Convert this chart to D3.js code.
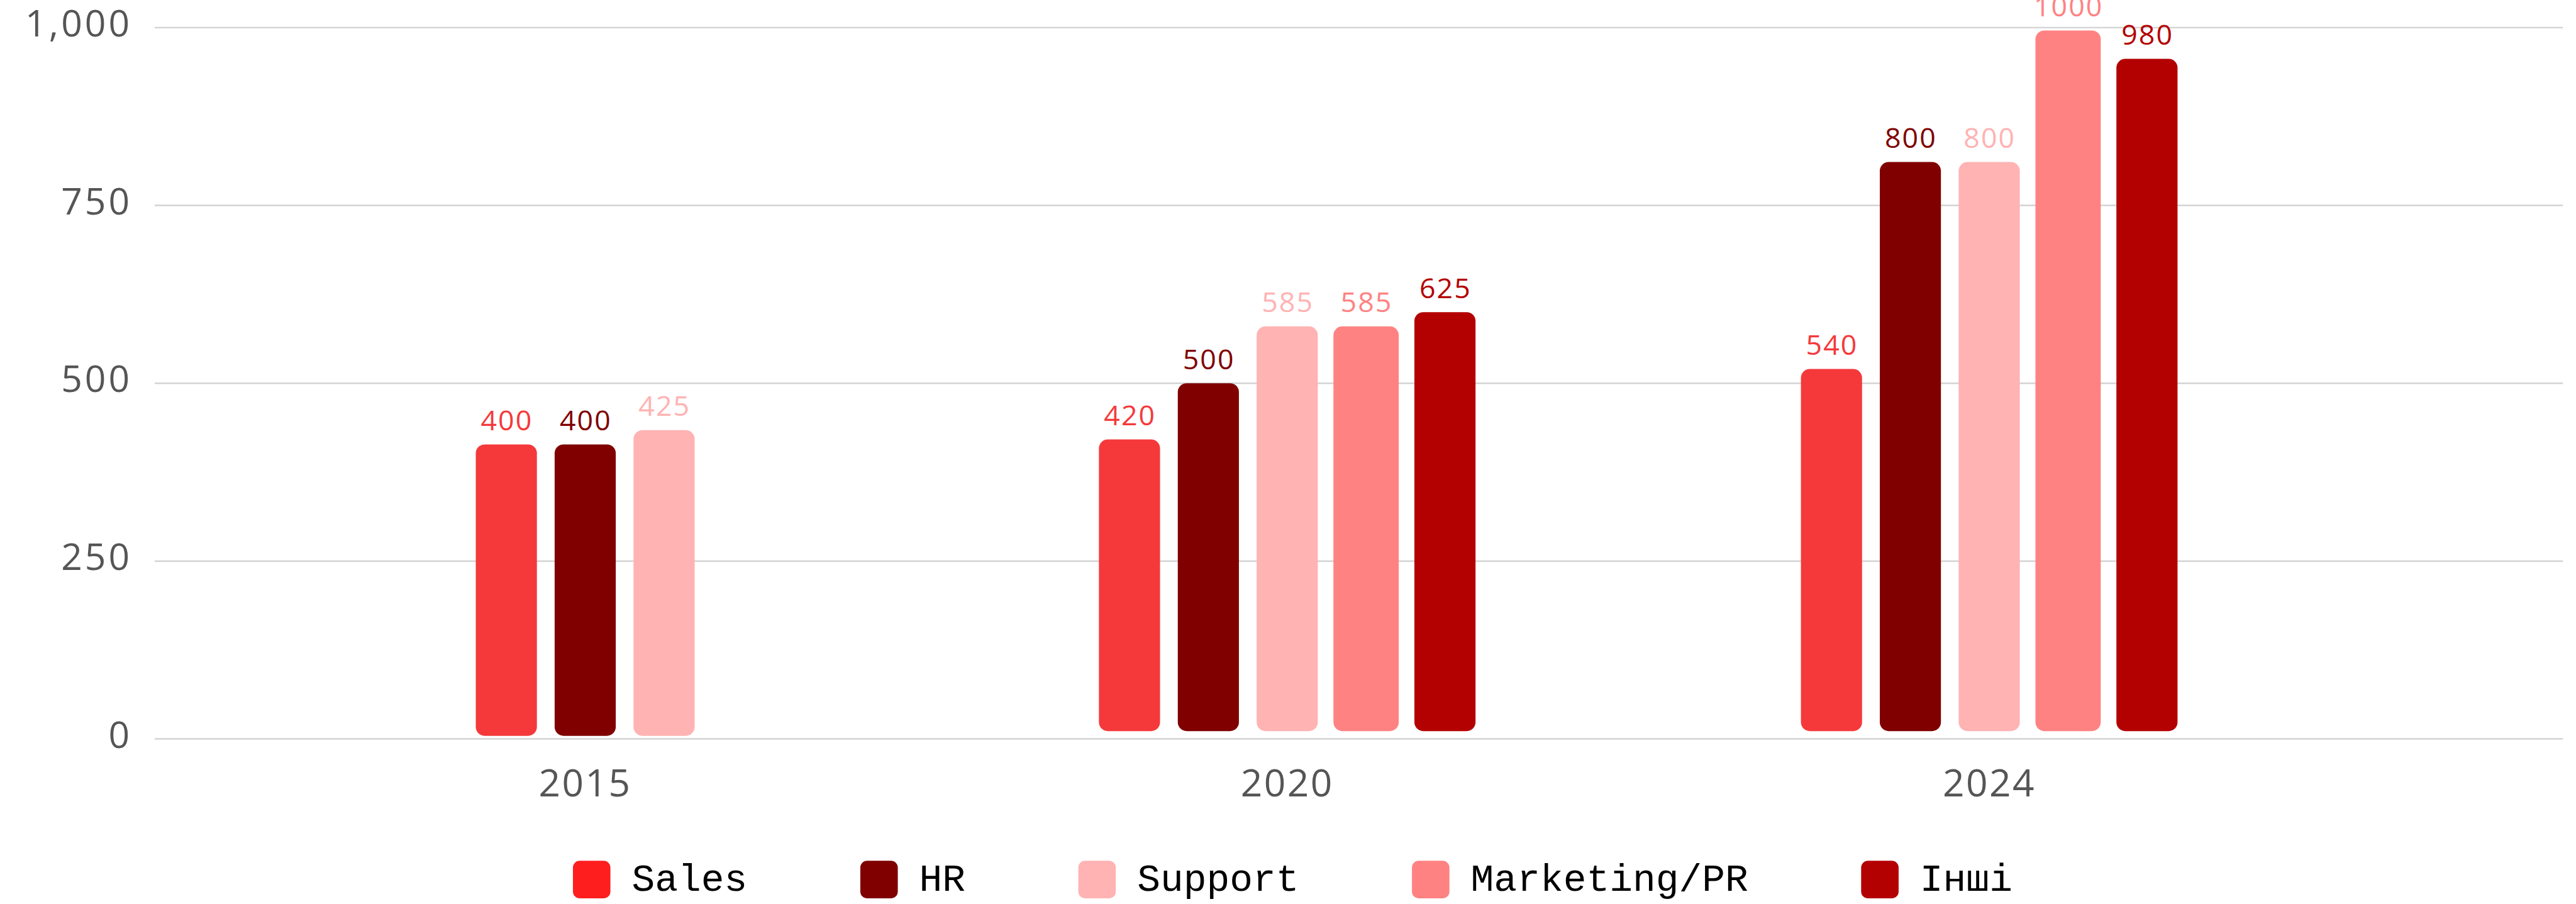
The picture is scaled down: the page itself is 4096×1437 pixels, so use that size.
<!DOCTYPE html>
<html>
<head>
<meta charset="utf-8">
<script src="https://cdn.jsdelivr.net/npm/d3@7"></script>
<style>
  html, body { margin: 0; padding: 0; background: #fff; overflow: hidden; }
  svg { display: block; }
</style>
</head>
<body>
<div id="chart"></div>
<script>
// Data
const years = ["2015", "2020", "2024"];
const seriesNames = ["Sales", "HR", "Support", "Marketing/PR", "Інші"];
const barColors = ["#F5393B", "#800000", "#FFB3B3", "#FF8282", "#B30000"];
const legendColors = ["#FF1E1E", "#800000", "#FFB3B3", "#FF8282", "#B30000"];

// bar heights (null = no bar that year)
const sales = [414, 421, 520];
const hr = [414, 500, 811];
const support = [434, 580, 811];
const marketing = [null, 580, 996];
const other = [null, 600, 956];

// numbers printed above the bars
const salesLabels = ["400", "420", "540"];
const hrLabels = ["400", "500", "800"];
const supportLabels = ["425", "585", "800"];
const marketingLabels = [null, "585", "1000"];
const otherLabels = [null, "625", "980"];

const yTicks = [0, 250, 500, 750, 1000];

const seriesValues = [sales, hr, support, marketing, other];
const seriesLabels = [salesLabels, hrLabels, supportLabels, marketingLabels, otherLabels];

// Layout (drawn in reference units, scaled by the viewBox)
const W = 4948, H = 1736;
const gridLeft = 297, gridRight = 4923;
const barStep = 151.5;
const baseGap = { "2015": 6, "2020": 15, "2024": 15 };

const svg = d3.select("#chart").append("svg")
	.attr("width", 4096)
	.attr("height", 1437)
	.attr("viewBox", `0 0 ${W} ${H}`);

const y = d3.scaleLinear().domain([0, 1000]).range([1419, 53]);
const x = d3.scalePoint().domain(years).range([1124, 3821]);

// grid lines
svg.append("g")
	.selectAll("line")
	.data(yTicks)
	.join("line")
	.attr("x1", gridLeft)
	.attr("x2", gridRight)
	.attr("y1", (d) => y(d))
	.attr("y2", (d) => y(d))
	.attr("stroke", "#D3D3D3")
	.attr("stroke-width", 3);

// y tick labels
svg.append("g")
	.selectAll("text")
	.data(yTicks)
	.join("text")
	.attr("x", 254)
	.attr("y", (d) => y(d) + 17)
	.attr("text-anchor", "end")
	.style("font-family", "'Open Sans', sans-serif")
	.style("font-size", "71px")
	.style("letter-spacing", "5px")
	.attr("fill", "#555")
	.text((d) => d3.format(",")(d));

// year labels
svg.append("g")
	.selectAll("text")
	.data(years)
	.join("text")
	.attr("x", (d) => x(d))
	.attr("y", 1530)
	.attr("text-anchor", "middle")
	.style("font-family", "'Open Sans', sans-serif")
	.style("font-size", "73px")
	.style("letter-spacing", "3px")
	.attr("fill", "#555")
	.text((d) => d);

// build the bar rows
const bars = [];
years.forEach((year, yi) => {
	const present = seriesNames.filter((s, si) => seriesValues[si][yi] != null);
	const n = present.length;
	const inner = d3.scaleBand()
		.domain(present)
		.range([-n * barStep / 2, n * barStep / 2])
		.paddingInner(0.225)
		.paddingOuter(0.1125);
	present.forEach((name) => {
		const si = seriesNames.indexOf(name);
		const extra = name === "Marketing/PR" ? 8 : 0;
		bars.push({
			year,
			name,
			value: seriesValues[si][yi],
			label: seriesLabels[si][yi],
			color: barColors[si],
			x0: x(year) + inner(name) - extra / 2,
			w: inner.bandwidth() + extra,
		});
	});
});

svg.append("g")
	.selectAll("rect")
	.data(bars)
	.join("rect")
	.attr("x", (d) => d.x0)
	.attr("width", (d) => d.w)
	.attr("y", (d) => y(d.value))
	.attr("height", (d) => y(0) - baseGap[d.year] - y(d.value))
	.attr("rx", 17)
	.attr("fill", (d) => d.color);

svg.append("g")
	.selectAll("text")
	.data(bars)
	.join("text")
	.attr("x", (d) => d.x0 + d.w / 2 + 1)
	.attr("y", (d) => y(d.value) - 27)
	.attr("text-anchor", "middle")
	.style("font-family", "'Open Sans', sans-serif")
	.style("font-size", "54px")
	.style("letter-spacing", "2.5px")
	.attr("fill", (d) => d.color)
	.text((d) => d.label);

// legend
const legend = svg.append("g");
const swatch = 72, textGap = 41, itemGap = 217, legendTop = 1653;
const items = legend.selectAll("g")
	.data(seriesNames)
	.join("g");

items.append("rect")
	.attr("width", swatch)
	.attr("height", swatch)
	.attr("y", legendTop)
	.attr("rx", 13)
	.attr("fill", (d, i) => legendColors[i]);

items.append("text")
	.attr("x", swatch + textGap)
	.attr("y", legendTop + 58)
	.style("font-family", "'Liberation Mono', monospace")
	.style("font-size", "74px")
	.attr("fill", "#000")
	.text((d) => d);

let cursor = 0;
const offsets = [];
items.each(function () {
	offsets.push(cursor);
	const tw = d3.select(this).select("text").node().getComputedTextLength();
	cursor += swatch + textGap + tw + itemGap;
});
const legendWidth = cursor - itemGap;
const legendStart = 2483 - legendWidth / 2;
items.attr("transform", (d, i) => `translate(${legendStart + offsets[i]},0)`);
</script>
</body>
</html>
